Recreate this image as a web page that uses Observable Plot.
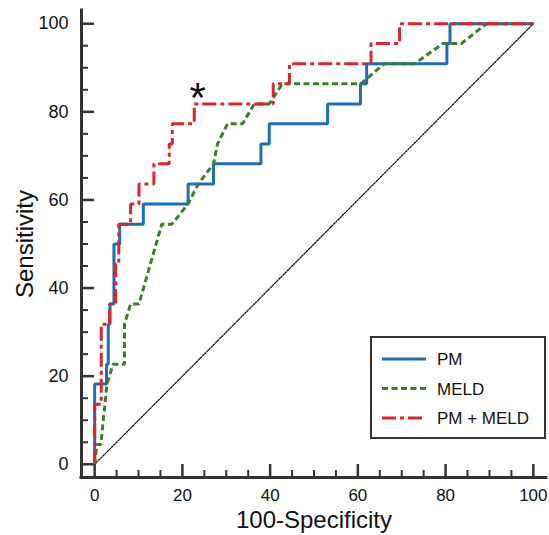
<!DOCTYPE html>
<html><head><meta charset="utf-8">
<script src="https://cdn.jsdelivr.net/npm/d3@7"></script>
<script src="https://cdn.jsdelivr.net/npm/@observablehq/plot@0.6"></script>
<style>
body{margin:0;background:#fff;font-family:"Liberation Sans",Arial,sans-serif;}
#wrap{position:relative;width:549px;height:535px;}
#legend{position:absolute;left:370px;top:336px;width:172px;height:99px;border:2px solid #333;background:#fff;}
</style></head><body><div id="wrap"></div>
<script>
// ROC curves (100-Specificity, Sensitivity)
const pmFpr   = [0, 0, 2.7, 2.7, 3.1, 3.1, 3.5, 3.5, 4.4, 4.4, 5.7, 5.7, 11.1, 11.1, 21.3, 21.3, 27.1, 27.1, 37.9, 37.9, 39.8, 39.8, 53.1, 53.1, 60.6, 60.6, 62.0, 62.0, 80.3, 80.3, 81.0, 81.0, 100];
const pmSens  = [0, 18.2, 18.2, 22.7, 22.7, 31.8, 31.8, 36.4, 36.4, 50.0, 50.0, 54.5, 54.5, 59.1, 59.1, 63.6, 63.6, 68.2, 68.2, 72.7, 72.7, 77.3, 77.3, 81.8, 81.8, 86.4, 86.4, 90.9, 90.9, 95.5, 95.5, 100, 100];
const meldFpr  = [0, 0.5, 1.4, 2.8, 4.2, 6.8, 6.8, 8.2, 10.1, 15.3, 17.6, 21.3, 23.6, 27.1, 28.0, 30.3, 33.7, 36.4, 39.8, 42.8, 60.7, 66.0, 72.9, 79.4, 83.6, 89.3, 100];
const meldSens = [0, 4.5, 4.5, 18.2, 22.7, 22.7, 31.8, 36.4, 36.4, 54.5, 54.5, 59.1, 63.6, 68.2, 72.7, 77.3, 77.3, 81.8, 81.8, 86.4, 86.4, 90.9, 90.9, 95.5, 95.5, 100, 100];
const comboFpr  = [0, 0, 1.5, 1.5, 3.4, 3.4, 4.8, 4.8, 5.5, 5.5, 8.2, 8.2, 10.1, 10.1, 13.5, 13.5, 17.0, 17.0, 17.7, 17.7, 22.7, 22.7, 40.7, 40.7, 44.4, 44.4, 63.0, 63.0, 69.5, 69.5, 100];
const comboSens = [0, 13.6, 13.6, 31.8, 31.8, 36.4, 36.4, 45.5, 45.5, 54.5, 54.5, 59.1, 59.1, 63.6, 63.6, 68.2, 68.2, 72.7, 72.7, 77.3, 77.3, 81.8, 81.8, 86.4, 86.4, 90.9, 90.9, 95.5, 95.5, 100, 100];
const chance = [0, 100];

const seriesNames  = ["PM", "MELD", "PM + MELD"];
const seriesColors = ["#1f6db5", "#3b7d2b", "#d9262e"];
const seriesDashes = [null, "6,3.5", "14,4,4,4"];

const majorTicks = [0, 20, 40, 60, 80, 100];
const minorTicks = [5, 10, 15, 25, 30, 35, 45, 50, 55, 65, 70, 75, 85, 90, 95];
const axisDomain = [-3, 103];
const annotations = [{label: "*", x: 23.5, y: 83}];

const axisColor = "#333";
const font = "'Liberation Sans', Arial, sans-serif";

const W = 549, H = 535, mL = 81, mR = 3, mT = 10, mB = 58;
const frameW = W - mL - mR, frameH = H - mT - mB;

const series = [[pmFpr, pmSens], [meldFpr, meldSens], [comboFpr, comboSens]];

const chart = Plot.plot({
  width: W, height: H,
  marginLeft: mL, marginRight: mR, marginTop: mT, marginBottom: mB,
  x: {domain: axisDomain},
  y: {domain: axisDomain},
  style: {fontFamily: font, color: "#111", background: "white"},
  marks: [
    Plot.ruleX([axisDomain[0]], {stroke: axisColor, strokeWidth: 3, strokeLinecap: "square"}),
    Plot.ruleY([axisDomain[0]], {stroke: axisColor, strokeWidth: 3, strokeLinecap: "square"}),
    Plot.tickX(majorTicks, {x: d => d, insetTop: frameH - 13, stroke: axisColor, strokeWidth: 2.5}),
    Plot.tickX(minorTicks, {x: d => d, insetTop: frameH - 7, stroke: axisColor, strokeWidth: 2}),
    Plot.tickY(majorTicks, {y: d => d, insetRight: frameW - 13, stroke: axisColor, strokeWidth: 2.5}),
    Plot.tickY(minorTicks, {y: d => d, insetRight: frameW - 7, stroke: axisColor, strokeWidth: 2}),
    Plot.axisX({ticks: majorTicks, tickSize: 0, tickPadding: 11, fontSize: 17, label: null, tickFormat: d => String(d)}),
    Plot.axisY({ticks: majorTicks, tickSize: 0, tickPadding: 13, fontSize: 18, label: null, tickFormat: d => String(d)}),
    Plot.text(["100-Specificity"], {frameAnchor: "bottom", lineAnchor: "middle", textAnchor: "middle", dy: 43, fontSize: 24, fill: "#111"}),
    Plot.text(["Sensitivity"], {frameAnchor: "left", lineAnchor: "middle", textAnchor: "middle", dx: -56, rotate: -90, fontSize: 24, fill: "#111"}),
    Plot.line(chance, {x: d => d, y: d => d, stroke: "#111", strokeWidth: 1.3, strokeDasharray: "1.5,1.5"}),
    ...series.map(([xs, ys], i) => Plot.line(ys, {
      x: xs, y: ys, stroke: seriesColors[i], strokeWidth: 3,
      strokeDasharray: seriesDashes[i], strokeLinejoin: "miter", strokeLinecap: "butt"
    })),
    Plot.text(annotations, {x: "x", y: "y", text: "label", fontSize: 42, fill: "#111"})
  ]
});

const wrap = document.getElementById("wrap");
wrap.appendChild(chart);

// legend
const legend = document.createElement("div");
legend.id = "legend";
const ns = "http://www.w3.org/2000/svg";
const lsvg = document.createElementNS(ns, "svg");
lsvg.setAttribute("width", 172); lsvg.setAttribute("height", 99);
seriesNames.forEach((name, i) => {
  const yy = 21 + i * 29.5;
  const ln = document.createElementNS(ns, "line");
  ln.setAttribute("x1", 10); ln.setAttribute("x2", 54);
  ln.setAttribute("y1", yy); ln.setAttribute("y2", yy);
  ln.setAttribute("stroke", seriesColors[i]);
  ln.setAttribute("stroke-width", 3);
  if (seriesDashes[i]) ln.setAttribute("stroke-dasharray", seriesDashes[i]);
  lsvg.appendChild(ln);
  const tx = document.createElementNS(ns, "text");
  tx.setAttribute("x", 65); tx.setAttribute("y", yy + 6);
  tx.setAttribute("font-size", 17);
  tx.setAttribute("font-family", font);
  tx.setAttribute("fill", "#111");
  tx.textContent = name;
  lsvg.appendChild(tx);
});
legend.appendChild(lsvg);
wrap.appendChild(legend);
</script></body></html>
